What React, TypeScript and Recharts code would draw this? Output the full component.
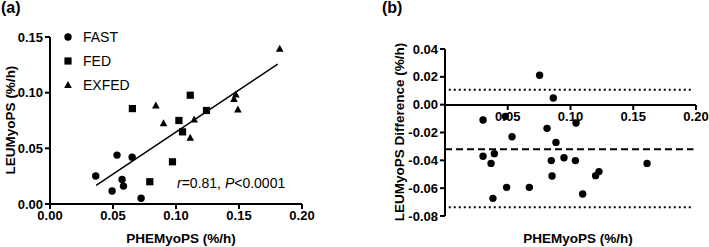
import React from 'react';
import { ScatterChart, Scatter, XAxis, YAxis, ReferenceLine, Legend } from 'recharts';

const FONT = '"Liberation Sans", Arial, Helvetica, sans-serif';

// Panel (a): LEU vs PHE myofibrillar protein synthesis per group
const fastPhe = [0.0363, 0.0493, 0.0532, 0.0572, 0.0583, 0.0652, 0.0723];
const fastLeu = [0.0251, 0.0117, 0.0439, 0.0221, 0.0161, 0.0421, 0.0051];
const fedPhe = [0.0654, 0.0792, 0.0972, 0.1023, 0.1052, 0.1113, 0.1242];
const fedLeu = [0.0857, 0.02, 0.0379, 0.075, 0.0648, 0.0977, 0.084];
const exfedPhe = [0.084, 0.0901, 0.1113, 0.1144, 0.146, 0.1475, 0.1491, 0.1823];
const exfedLeu = [0.0884, 0.0726, 0.0595, 0.0759, 0.0944, 0.0983, 0.0849, 0.1395];
const groupOrder = ['FAST', 'FED', 'EXFED'];

// fitted line y = slope * x + intercept, drawn over the data range
const fitSlope = 0.755;
const fitIntercept = -0.0109;
const fitRange = [0.0366, 0.1807];

// Panel (b): difference plot
const diffPhe = [
  0.0303, 0.0303, 0.0367, 0.0393, 0.0382, 0.0481, 0.0491, 0.0534, 0.0672, 0.0754, 0.0813,
  0.0863, 0.0847, 0.0853, 0.0884, 0.0948, 0.1039, 0.1044, 0.1097, 0.12, 0.1227, 0.161,
];
const diffLeu = [
  -0.011, -0.0371, -0.0422, -0.0352, -0.0673, -0.0084, -0.0594, -0.023, -0.0594, 0.0211, -0.017,
  0.0048, -0.0402, -0.0513, -0.0271, -0.0381, -0.0402, -0.0132, -0.0642, -0.051, -0.0481, -0.0422,
];
const upperLimit = 0.0108;
const meanBias = -0.032;
const lowerLimit = -0.0738;
const limitRange = [0.003, 0.198];

const xTicksA = [0, 0.05, 0.1, 0.15, 0.2];
const yTicksA = [0, 0.05, 0.1, 0.15];
const xTicksB = [0, 0.05, 0.1, 0.15, 0.2];
const yTicksB = [-0.08, -0.06, -0.04, -0.02, 0, 0.02, 0.04];

const zip = (xs: number[], ys: number[]) => xs.map((x, i) => ({ x, y: ys[i] }));

const fastData = zip(fastPhe, fastLeu);
const fedData = zip(fedPhe, fedLeu);
const exfedData = zip(exfedPhe, exfedLeu);
const diffData = zip(diffPhe, diffLeu);

const axisLine = { stroke: '#000', strokeWidth: 2 };
const tickStyle = { fill: '#000', fontSize: 13, fontWeight: 'bold', fontFamily: FONT };
const fmt = (v: number) => v.toFixed(2);
// the zero of the difference plot's x axis sits on the y axis, so it gets no label
const fmtNoZero = (v: number) => (v === 0 ? '' : v.toFixed(2));

const CircleMark = (p: any) => <circle cx={p.cx} cy={p.cy} r={3.7} fill="#000" />;
const SquareMark = (p: any) => <rect x={p.cx - 3.6} y={p.cy - 3.6} width={7.2} height={7.2} fill="#000" />;
const TriangleMark = (p: any) => (
  <polygon points={`${p.cx},${p.cy - 4} ${p.cx + 3.8},${p.cy + 3} ${p.cx - 3.8},${p.cy + 3}`} fill="#000" />
);
const NoMark = () => null;

const LegendIcon = ({ type }: { type: string }) => {
  if (type === 'square') return <rect x={2.4} y={2.4} width={7.2} height={7.2} fill="#000" />;
  if (type === 'triangle') return <polygon points="6,2 9.8,9 2.2,9" fill="#000" />;
  return <circle cx={6} cy={6} r={3.7} fill="#000" />;
};

const renderLegend = (props: any) => {
  const items = [...(props.payload || [])].sort(
    (a: any, b: any) => groupOrder.indexOf(a.value) - groupOrder.indexOf(b.value)
  );
  return (
    <div style={{ fontFamily: FONT }}>
      {items.map((entry: any) => (
        <div key={entry.value} style={{ display: 'flex', alignItems: 'center', height: 24 }}>
          <svg width={12} height={12}>
            <LegendIcon type={entry.type} />
          </svg>
          <span style={{ marginLeft: 9, fontSize: 14, color: '#000' }}>{entry.value}</span>
        </div>
      ))}
    </div>
  );
};

const text = (style: React.CSSProperties): React.CSSProperties => ({
  position: 'absolute',
  whiteSpace: 'nowrap',
  color: '#000',
  fontFamily: FONT,
  lineHeight: 1,
  ...style,
});

const App = () => {
  const fitLine = fitRange.map((x) => ({ x, y: fitSlope * x + fitIntercept }));
  return (
    <div style={{ position: 'absolute', left: 0, top: 0, width: 709, height: 247, background: '#fff' }}>
      {/* (a) correlation */}
      <div style={{ position: 'absolute', left: 0, top: 0 }}>
        <ScatterChart width={360} height={247} margin={{ top: 37, right: 58, bottom: 13, left: 0 }}>
          <XAxis
            type="number"
            dataKey="x"
            domain={[0, 0.2]}
            ticks={xTicksA}
            interval={0}
            tickFormatter={fmt}
            axisLine={axisLine}
            tickLine={axisLine}
            tickSize={5}
            tick={tickStyle}
            height={30}
          />
          <YAxis
            type="number"
            dataKey="y"
            domain={[0, 0.15]}
            ticks={yTicksA}
            interval={0}
            tickFormatter={fmt}
            axisLine={axisLine}
            tickLine={axisLine}
            tickSize={5}
            tick={tickStyle}
            width={50}
          />
          <ReferenceLine segment={fitLine} stroke="#000" strokeWidth={1.5} />
          <Scatter name="FAST" data={fastData} legendType="circle" shape={CircleMark} isAnimationActive={false} />
          <Scatter name="FED" data={fedData} legendType="square" shape={SquareMark} isAnimationActive={false} />
          <Scatter name="EXFED" data={exfedData} legendType="triangle" shape={TriangleMark} isAnimationActive={false} />
          <Legend
            layout="vertical"
            align="center"
            verticalAlign="middle"
            content={renderLegend}
            wrapperStyle={{ left: 62, top: 25, width: 'auto' }}
          />
        </ScatterChart>
      </div>

      {/* (b) difference plot */}
      <div style={{ position: 'absolute', left: 360, top: 0 }}>
        <ScatterChart width={349} height={247} margin={{ top: 49, right: 13, bottom: 31, left: 0 }}>
          <XAxis type="number" dataKey="x" domain={[0, 0.2]} hide />
          <YAxis
            type="number"
            dataKey="y"
            domain={[-0.08, 0.04]}
            ticks={yTicksB}
            interval={0}
            tickFormatter={fmt}
            axisLine={axisLine}
            tickLine={axisLine}
            tickSize={5}
            tick={tickStyle}
            width={85}
          />
          <ReferenceLine
            segment={limitRange.map((x) => ({ x, y: upperLimit }))}
            stroke="#000"
            strokeWidth={2}
            strokeDasharray="2 3"
          />
          <ReferenceLine
            segment={[{ x: 0, y: meanBias }, { x: limitRange[1], y: meanBias }]}
            stroke="#000"
            strokeWidth={2}
            strokeDasharray="7 4"
          />
          <ReferenceLine
            segment={limitRange.map((x) => ({ x, y: lowerLimit }))}
            stroke="#000"
            strokeWidth={2}
            strokeDasharray="2 3"
          />
          <Scatter data={diffData} shape={CircleMark} isAnimationActive={false} />
        </ScatterChart>
      </div>

      {/* x axis of (b), drawn through zero on top of the plot */}
      <div style={{ position: 'absolute', left: 360, top: 0, pointerEvents: 'none' }}>
        <ScatterChart width={349} height={140} margin={{ top: 49, right: 13, bottom: 5, left: 85 }}>
          <XAxis
            type="number"
            dataKey="x"
            domain={[0, 0.2]}
            ticks={xTicksB}
            interval={0}
            tickFormatter={fmtNoZero}
            axisLine={axisLine}
            tickLine={axisLine}
            tickSize={5}
            tick={tickStyle}
            height={30}
          />
          <YAxis type="number" dataKey="y" domain={[-0.08, 0.04]} hide />
          <Scatter data={diffData} shape={NoMark} isAnimationActive={false} />
        </ScatterChart>
      </div>

      <div style={text({ left: 1, top: 0, fontSize: 16, fontWeight: 'bold' })}>(a)</div>
      <div style={text({ left: 382, top: 0, fontSize: 16, fontWeight: 'bold' })}>(b)</div>

      <div style={text({ left: 181, top: 239, fontSize: 13.5, fontWeight: 'bold', transform: 'translate(-50%, -50%)' })}>
        PHEMyoPS (%/h)
      </div>
      <div
        style={text({ left: 11, top: 120, fontSize: 13.5, fontWeight: 'bold', transform: 'translate(-50%, -50%) rotate(-90deg)' })}
      >
        LEUMyoPS (%/h)
      </div>
      <div style={text({ left: 177, top: 176, fontSize: 14 })}>
        <i>r</i>=0.81, <i>P</i>&lt;0.0001
      </div>

      <div style={text({ left: 578, top: 239, fontSize: 13.5, fontWeight: 'bold', transform: 'translate(-50%, -50%)' })}>
        PHEMyoPS (%/h)
      </div>
      <div
        style={text({ left: 400, top: 132, fontSize: 13.5, fontWeight: 'bold', transform: 'translate(-50%, -50%) rotate(-90deg)' })}
      >
        LEUMyoPS Difference (%/h)
      </div>
    </div>
  );
};

export default App;
